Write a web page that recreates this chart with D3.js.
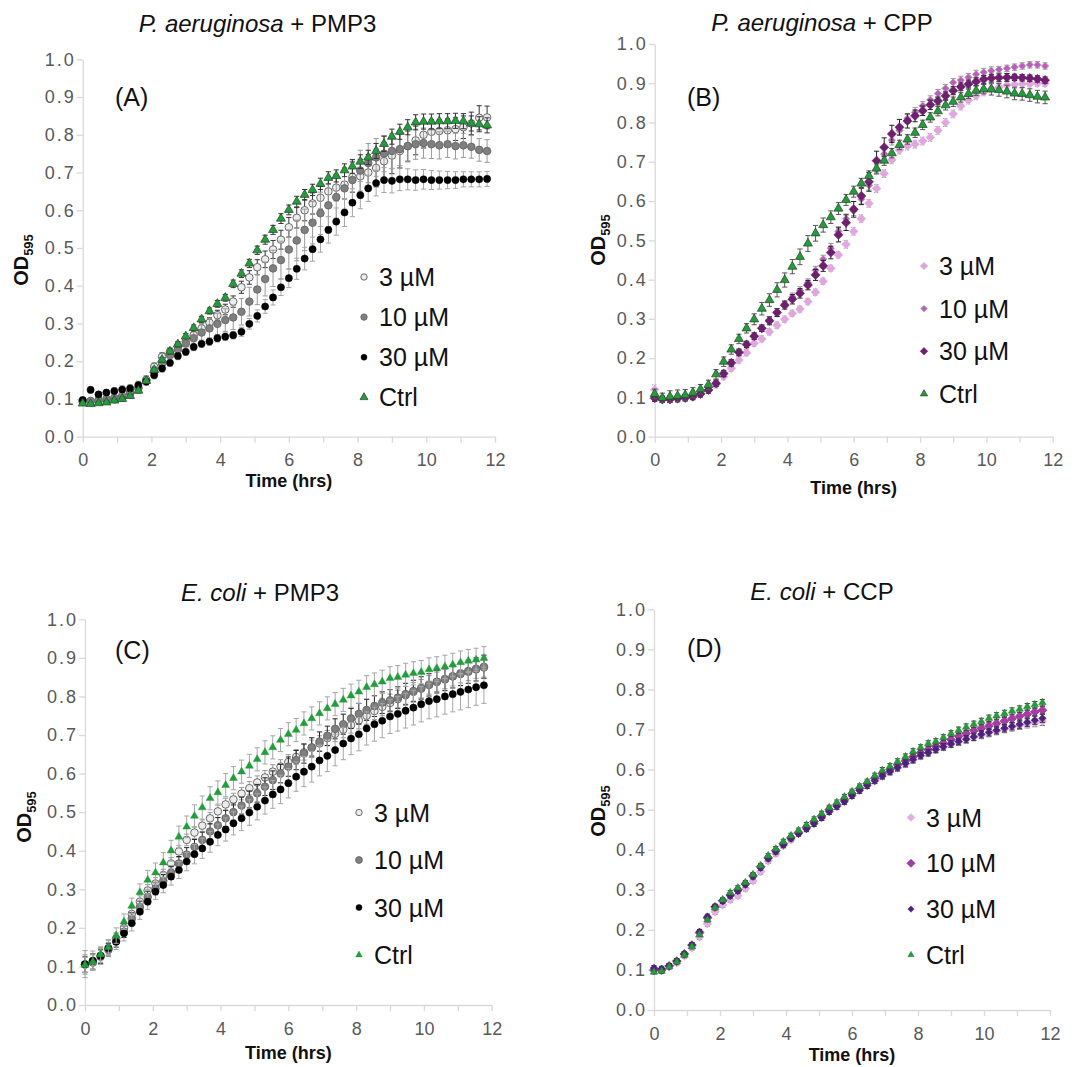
<!DOCTYPE html>
<html><head><meta charset="utf-8">
<script src="https://cdn.jsdelivr.net/npm/d3@7"></script>
<style>body{margin:0;background:#fff} svg{display:block}</style>
</head><body>
<svg id="chart" width="1078" height="1067"></svg>
<script>
// ---------------- DATA ----------------
const timeHrs = [0,0.23,0.46,0.69,0.92,1.15,1.38,1.62,1.85,2.08,2.31,2.54,2.77,3.0,3.23,3.46,3.69,3.92,4.15,4.38,4.62,4.85,5.08,5.31,5.54,5.77,6.0,6.23,6.46,6.69,6.92,7.15,7.38,7.62,7.85,8.08,8.31,8.54,8.77,9.0,9.23,9.46,9.69,9.92,10.15,10.38,10.62,10.85,11.08,11.31,11.54,11.77];
const xTickValues = [0,1,2,3,4,5,6,7,8,9,10,11,12];
const xTickLabels = [0,2,4,6,8,10,12];
const yTickValues = [0,0.1,0.2,0.3,0.4,0.5,0.6,0.7,0.8,0.9,1.0];
const seriesLabels = ["3 µM","10 µM","30 µM","Ctrl"];
const panelLetters = ["(A)","(B)","(C)","(D)"];
const titleOrganisms = ["P. aeruginosa","P. aeruginosa","E. coli","E. coli"];
const titleTreatments = [" + PMP3"," + CPP"," + PMP3"," + CCP"];
const xAxisTitle = "Time (hrs)";

// Panel A: P. aeruginosa + PMP3
const paePmp3_3uM = [0.095,0.093,0.095,0.097,0.099,0.104,0.115,0.128,0.150,0.185,0.212,0.225,0.239,0.252,0.269,0.287,0.302,0.322,0.337,0.358,0.396,0.422,0.449,0.470,0.496,0.522,0.555,0.580,0.600,0.618,0.633,0.650,0.660,0.668,0.688,0.690,0.700,0.712,0.730,0.745,0.757,0.770,0.785,0.800,0.808,0.810,0.812,0.815,0.820,0.830,0.845,0.846];
const paePmp3_10uM = [0.093,0.095,0.097,0.100,0.103,0.108,0.117,0.130,0.150,0.172,0.194,0.216,0.231,0.247,0.261,0.276,0.287,0.299,0.309,0.316,0.331,0.358,0.390,0.418,0.446,0.468,0.496,0.520,0.548,0.567,0.592,0.613,0.635,0.658,0.680,0.705,0.725,0.740,0.750,0.757,0.762,0.770,0.775,0.778,0.775,0.772,0.775,0.770,0.772,0.768,0.760,0.757];
const paePmp3_30uM = [0.097,0.124,0.112,0.117,0.121,0.125,0.128,0.137,0.146,0.163,0.181,0.196,0.214,0.225,0.238,0.246,0.252,0.261,0.265,0.269,0.278,0.299,0.320,0.345,0.369,0.396,0.420,0.445,0.472,0.497,0.523,0.548,0.570,0.594,0.620,0.640,0.658,0.672,0.680,0.678,0.682,0.682,0.680,0.682,0.680,0.680,0.680,0.680,0.682,0.682,0.682,0.683];
const paePmp3_ctrl = [0.088,0.087,0.089,0.091,0.096,0.100,0.108,0.122,0.148,0.177,0.204,0.226,0.245,0.266,0.288,0.311,0.333,0.352,0.368,0.405,0.432,0.459,0.494,0.522,0.548,0.578,0.601,0.623,0.641,0.654,0.670,0.686,0.691,0.706,0.716,0.729,0.740,0.757,0.776,0.795,0.808,0.820,0.833,0.835,0.835,0.836,0.836,0.837,0.836,0.830,0.828,0.825];
const paePmp3_3uM_err = [0.004,0.004,0.004,0.005,0.005,0.005,0.006,0.008,0.010,0.010,0.010,0.010,0.010,0.010,0.012,0.012,0.013,0.013,0.014,0.015,0.016,0.018,0.020,0.022,0.024,0.025,0.026,0.027,0.028,0.028,0.030,0.032,0.035,0.038,0.040,0.045,0.048,0.050,0.050,0.048,0.045,0.040,0.038,0.035,0.032,0.030,0.030,0.030,0.030,0.030,0.032,0.030];
const paePmp3_10uM_err = [0.005,0.005,0.006,0.006,0.007,0.008,0.009,0.010,0.012,0.014,0.015,0.016,0.018,0.020,0.022,0.024,0.026,0.028,0.030,0.032,0.035,0.038,0.040,0.045,0.048,0.050,0.052,0.054,0.055,0.056,0.056,0.056,0.056,0.055,0.055,0.054,0.052,0.050,0.048,0.046,0.044,0.042,0.040,0.040,0.038,0.036,0.035,0.034,0.032,0.030,0.030,0.030];
const paePmp3_30uM_err = [0.008,0.008,0.008,0.008,0.009,0.010,0.010,0.010,0.010,0.010,0.010,0.010,0.010,0.010,0.010,0.010,0.010,0.010,0.010,0.010,0.012,0.014,0.016,0.018,0.020,0.022,0.025,0.028,0.030,0.032,0.034,0.035,0.036,0.037,0.037,0.036,0.035,0.034,0.033,0.032,0.030,0.028,0.027,0.026,0.025,0.024,0.023,0.022,0.020,0.020,0.020,0.020];
const paePmp3_ctrl_err = [0.004,0.004,0.004,0.004,0.004,0.005,0.005,0.006,0.006,0.006,0.006,0.007,0.007,0.007,0.008,0.008,0.008,0.009,0.009,0.010,0.010,0.011,0.011,0.012,0.012,0.013,0.013,0.014,0.014,0.015,0.015,0.016,0.016,0.017,0.018,0.018,0.019,0.020,0.020,0.020,0.020,0.020,0.020,0.020,0.020,0.020,0.020,0.020,0.020,0.020,0.020,0.020];

// Panel B: P. aeruginosa + CPP
const paeCpp_3uM = [0.120,0.095,0.095,0.098,0.099,0.104,0.109,0.119,0.132,0.153,0.174,0.195,0.214,0.238,0.249,0.267,0.284,0.299,0.314,0.325,0.344,0.368,0.396,0.429,0.463,0.490,0.523,0.555,0.594,0.632,0.670,0.705,0.730,0.740,0.745,0.753,0.762,0.780,0.800,0.822,0.842,0.857,0.868,0.878,0.886,0.890,0.895,0.897,0.898,0.899,0.900,0.900];
const paeCpp_10uM = [0.100,0.096,0.096,0.098,0.100,0.103,0.110,0.120,0.137,0.160,0.187,0.213,0.234,0.257,0.277,0.297,0.318,0.338,0.356,0.372,0.392,0.424,0.452,0.480,0.523,0.555,0.575,0.605,0.640,0.680,0.720,0.755,0.780,0.810,0.826,0.843,0.858,0.874,0.887,0.902,0.908,0.915,0.923,0.928,0.932,0.935,0.938,0.941,0.944,0.947,0.947,0.944];
const paeCpp_30uM = [0.098,0.095,0.095,0.097,0.099,0.102,0.109,0.119,0.136,0.161,0.188,0.215,0.235,0.256,0.276,0.295,0.316,0.335,0.350,0.365,0.386,0.412,0.435,0.469,0.514,0.545,0.579,0.613,0.649,0.703,0.737,0.771,0.788,0.804,0.817,0.830,0.845,0.855,0.868,0.881,0.891,0.898,0.904,0.910,0.913,0.914,0.915,0.915,0.914,0.913,0.911,0.908];
const paeCpp_ctrl = [0.109,0.099,0.102,0.104,0.106,0.112,0.121,0.132,0.159,0.191,0.222,0.249,0.276,0.299,0.326,0.348,0.374,0.399,0.433,0.458,0.492,0.518,0.539,0.559,0.581,0.603,0.624,0.645,0.664,0.683,0.703,0.722,0.743,0.757,0.774,0.794,0.813,0.829,0.844,0.853,0.864,0.873,0.881,0.885,0.885,0.883,0.879,0.874,0.873,0.870,0.866,0.864];
const paeCpp_3uM_err = [0.012,0.008,0.008,0.008,0.008,0.008,0.008,0.008,0.008,0.008,0.008,0.008,0.008,0.008,0.008,0.008,0.008,0.008,0.008,0.008,0.008,0.008,0.008,0.008,0.008,0.010,0.010,0.010,0.010,0.010,0.010,0.010,0.010,0.010,0.010,0.010,0.010,0.010,0.010,0.010,0.010,0.010,0.010,0.010,0.010,0.010,0.010,0.010,0.010,0.008,0.008,0.008];
const paeCpp_10uM_err = [0.008,0.008,0.008,0.008,0.008,0.008,0.008,0.008,0.008,0.008,0.008,0.008,0.008,0.008,0.008,0.008,0.008,0.008,0.010,0.010,0.010,0.010,0.010,0.012,0.012,0.012,0.012,0.012,0.012,0.012,0.012,0.012,0.012,0.012,0.012,0.010,0.010,0.010,0.010,0.010,0.010,0.010,0.010,0.010,0.010,0.008,0.008,0.008,0.008,0.008,0.008,0.008];
const paeCpp_30uM_err = [0.008,0.008,0.008,0.008,0.008,0.008,0.008,0.008,0.008,0.008,0.008,0.008,0.008,0.008,0.008,0.010,0.010,0.010,0.012,0.012,0.012,0.014,0.014,0.016,0.018,0.020,0.020,0.022,0.024,0.024,0.024,0.022,0.020,0.018,0.015,0.012,0.012,0.010,0.010,0.010,0.010,0.010,0.010,0.010,0.010,0.010,0.010,0.008,0.008,0.008,0.008,0.008];
const paeCpp_ctrl_err = [0.012,0.012,0.015,0.015,0.014,0.013,0.012,0.012,0.012,0.012,0.012,0.012,0.012,0.014,0.016,0.016,0.018,0.018,0.018,0.020,0.020,0.020,0.018,0.016,0.015,0.014,0.014,0.013,0.013,0.012,0.012,0.012,0.012,0.012,0.012,0.012,0.012,0.012,0.012,0.012,0.012,0.012,0.012,0.012,0.015,0.016,0.016,0.016,0.016,0.016,0.016,0.016];

// Panel C: E. coli + PMP3
const ecoPmp3_3uM = [0.105,0.110,0.128,0.147,0.172,0.200,0.236,0.268,0.297,0.315,0.337,0.367,0.398,0.428,0.447,0.465,0.484,0.502,0.520,0.533,0.548,0.562,0.577,0.590,0.605,0.618,0.630,0.643,0.655,0.667,0.678,0.692,0.703,0.714,0.726,0.738,0.750,0.762,0.773,0.783,0.793,0.803,0.812,0.820,0.830,0.838,0.845,0.852,0.860,0.866,0.872,0.875];
const ecoPmp3_10uM = [0.105,0.113,0.125,0.143,0.165,0.190,0.224,0.254,0.280,0.302,0.322,0.343,0.367,0.390,0.410,0.428,0.450,0.466,0.484,0.500,0.517,0.533,0.549,0.566,0.583,0.600,0.618,0.635,0.652,0.668,0.683,0.698,0.716,0.728,0.743,0.755,0.765,0.775,0.784,0.790,0.797,0.806,0.814,0.822,0.830,0.838,0.844,0.852,0.858,0.864,0.870,0.877];
const ecoPmp3_30uM = [0.106,0.115,0.127,0.147,0.164,0.186,0.212,0.242,0.268,0.294,0.311,0.333,0.350,0.372,0.391,0.406,0.423,0.441,0.455,0.471,0.484,0.499,0.514,0.530,0.546,0.559,0.575,0.592,0.605,0.618,0.634,0.646,0.661,0.678,0.691,0.702,0.717,0.728,0.737,0.748,0.755,0.763,0.771,0.780,0.788,0.793,0.800,0.806,0.812,0.818,0.824,0.829];
const ecoPmp3_ctrl = [0.104,0.112,0.131,0.150,0.180,0.216,0.257,0.292,0.324,0.343,0.369,0.400,0.436,0.462,0.490,0.512,0.536,0.551,0.570,0.588,0.605,0.620,0.637,0.655,0.668,0.687,0.702,0.713,0.730,0.743,0.756,0.769,0.780,0.791,0.802,0.812,0.824,0.831,0.838,0.847,0.850,0.856,0.860,0.863,0.870,0.873,0.877,0.882,0.888,0.892,0.895,0.899];
const ecoPmp3_3uM_err = [0.025,0.020,0.018,0.015,0.015,0.015,0.015,0.015,0.015,0.015,0.015,0.015,0.015,0.015,0.015,0.015,0.015,0.016,0.016,0.016,0.016,0.017,0.017,0.018,0.018,0.018,0.019,0.019,0.020,0.020,0.020,0.020,0.020,0.021,0.021,0.022,0.022,0.022,0.022,0.023,0.023,0.023,0.024,0.024,0.024,0.025,0.025,0.025,0.025,0.025,0.025,0.025];
const ecoPmp3_10uM_err = [0.020,0.020,0.018,0.016,0.015,0.015,0.015,0.015,0.015,0.016,0.016,0.017,0.018,0.018,0.019,0.020,0.020,0.020,0.021,0.021,0.022,0.022,0.023,0.023,0.024,0.024,0.025,0.025,0.025,0.025,0.025,0.025,0.026,0.026,0.026,0.027,0.027,0.027,0.028,0.028,0.028,0.028,0.028,0.029,0.029,0.029,0.029,0.030,0.030,0.030,0.030,0.030];
const ecoPmp3_30uM_err = [0.035,0.025,0.022,0.020,0.020,0.020,0.020,0.020,0.020,0.020,0.020,0.022,0.022,0.024,0.025,0.026,0.027,0.028,0.030,0.030,0.032,0.033,0.034,0.035,0.036,0.037,0.038,0.038,0.039,0.040,0.040,0.041,0.041,0.042,0.042,0.043,0.043,0.044,0.044,0.044,0.045,0.045,0.045,0.046,0.046,0.046,0.046,0.046,0.047,0.047,0.047,0.047];
const ecoPmp3_ctrl_err = [0.020,0.020,0.020,0.020,0.020,0.020,0.020,0.022,0.025,0.025,0.026,0.027,0.028,0.028,0.029,0.030,0.030,0.030,0.030,0.030,0.030,0.030,0.030,0.030,0.030,0.030,0.030,0.030,0.030,0.030,0.030,0.030,0.030,0.030,0.030,0.030,0.030,0.030,0.030,0.030,0.030,0.030,0.030,0.030,0.030,0.030,0.030,0.030,0.030,0.030,0.030,0.030];

// Panel D: E. coli + CCP
const ecoCcp_3uM = [0.098,0.098,0.108,0.118,0.135,0.155,0.182,0.215,0.245,0.262,0.275,0.285,0.303,0.322,0.345,0.372,0.390,0.410,0.425,0.440,0.453,0.466,0.480,0.495,0.508,0.522,0.535,0.548,0.560,0.572,0.583,0.594,0.604,0.614,0.624,0.634,0.642,0.650,0.656,0.663,0.669,0.675,0.681,0.686,0.691,0.696,0.701,0.706,0.710,0.714,0.717,0.720];
const ecoCcp_10uM = [0.100,0.100,0.110,0.122,0.140,0.162,0.193,0.230,0.257,0.273,0.287,0.300,0.315,0.335,0.358,0.380,0.398,0.415,0.430,0.443,0.456,0.470,0.484,0.500,0.512,0.525,0.540,0.553,0.565,0.578,0.590,0.600,0.612,0.622,0.632,0.642,0.650,0.658,0.666,0.675,0.683,0.690,0.697,0.703,0.709,0.715,0.721,0.727,0.733,0.738,0.744,0.748];
const ecoCcp_30uM = [0.105,0.103,0.110,0.122,0.140,0.162,0.195,0.233,0.258,0.272,0.285,0.297,0.313,0.333,0.355,0.378,0.395,0.412,0.428,0.440,0.452,0.465,0.480,0.495,0.508,0.520,0.535,0.548,0.560,0.572,0.584,0.595,0.605,0.615,0.625,0.635,0.642,0.650,0.657,0.664,0.670,0.676,0.682,0.688,0.693,0.698,0.703,0.708,0.713,0.718,0.723,0.728];
const ecoCcp_ctrl = [0.095,0.097,0.108,0.120,0.137,0.158,0.188,0.225,0.255,0.275,0.293,0.305,0.318,0.338,0.360,0.385,0.402,0.420,0.435,0.448,0.462,0.476,0.490,0.505,0.518,0.532,0.545,0.558,0.570,0.585,0.598,0.608,0.620,0.632,0.645,0.655,0.665,0.670,0.680,0.690,0.698,0.706,0.713,0.720,0.728,0.734,0.740,0.746,0.751,0.757,0.762,0.767];
const ecoCcp_3uM_err = [0.006,0.006,0.006,0.006,0.006,0.006,0.006,0.006,0.006,0.006,0.006,0.006,0.006,0.006,0.006,0.006,0.006,0.006,0.006,0.006,0.007,0.007,0.007,0.007,0.007,0.007,0.007,0.007,0.007,0.007,0.008,0.008,0.008,0.008,0.008,0.008,0.008,0.008,0.008,0.008,0.009,0.009,0.009,0.009,0.009,0.009,0.009,0.010,0.010,0.010,0.010,0.010];
const ecoCcp_10uM_err = [0.006,0.006,0.006,0.006,0.006,0.006,0.006,0.006,0.006,0.006,0.006,0.006,0.006,0.006,0.006,0.006,0.006,0.006,0.006,0.006,0.007,0.007,0.007,0.007,0.007,0.007,0.007,0.007,0.007,0.007,0.007,0.007,0.007,0.007,0.008,0.008,0.008,0.008,0.008,0.008,0.008,0.008,0.008,0.008,0.009,0.009,0.009,0.009,0.009,0.009,0.009,0.009];
const ecoCcp_30uM_err = [0.006,0.006,0.006,0.006,0.006,0.006,0.006,0.006,0.006,0.006,0.006,0.006,0.006,0.006,0.006,0.006,0.006,0.006,0.006,0.006,0.007,0.007,0.007,0.007,0.007,0.007,0.007,0.007,0.007,0.007,0.007,0.007,0.008,0.008,0.008,0.008,0.008,0.008,0.008,0.008,0.008,0.009,0.009,0.009,0.009,0.009,0.009,0.009,0.010,0.010,0.010,0.010];
const ecoCcp_ctrl_err = [0.005,0.005,0.005,0.005,0.005,0.005,0.005,0.005,0.005,0.005,0.005,0.005,0.005,0.005,0.005,0.005,0.006,0.006,0.006,0.006,0.006,0.006,0.006,0.006,0.006,0.006,0.006,0.006,0.006,0.006,0.007,0.007,0.007,0.007,0.007,0.007,0.007,0.007,0.007,0.007,0.008,0.008,0.008,0.008,0.008,0.008,0.008,0.008,0.008,0.008,0.008,0.008];

// ---------------- DRAWING ----------------
const SANS = "'Liberation Sans', Arial, Helvetica, sans-serif";
const svg = d3.select("#chart");

function markerPath(shape, s) {
  if (shape === "circle") return d3.symbol(d3.symbolCircle, Math.PI * s * s)();
  if (shape === "diamond") return `M0,${-s}L${s},0L0,${s}L${-s},0Z`;
  const side = s * 2, h = side * Math.sqrt(3) / 2;
  return `M0,${-2*h/3}L${side/2},${h/3}L${-side/2},${h/3}Z`;
}

const GREEN = "#1f9e3a";

const panels = [
  { x0: 82.7, x1: 495, y0: 436.7, y1: 59.3,
    titleX: 257.5, titleY: 32, letterX: 115, letterY: 106, odX: 21, odY: 260, timeY: 487,
    legX: 364, legY: 277, legDy: 40.1,
    series: [
      { v: paePmp3_3uM, e: paePmp3_3uM_err, shape: "circle", r: 3.8, lr: 3.2, fill: "#ececec", stroke: "#5a5a5a", sw: 0.9, ec: "#333" },
      { v: paePmp3_10uM, e: paePmp3_10uM_err, shape: "circle", r: 3.8, lr: 3.2, fill: "#7f7f7f", stroke: "#666", sw: 0.9, ec: "#9a9a9a" },
      { v: paePmp3_30uM, e: paePmp3_30uM_err, shape: "circle", r: 3.6, lr: 3.0, fill: "#000", stroke: "#000", sw: 0.5, ec: "#a6a6a6" },
      { v: paePmp3_ctrl, e: paePmp3_ctrl_err, shape: "triangle", r: 4.5, lr: 4.0, fill: GREEN, stroke: "#2c3f2c", sw: 0.7, ec: "#333" } ] },
  { x0: 654.7, x1: 1052.7, y0: 436.7, y1: 44,
    titleX: 822, titleY: 31, letterX: 687, letterY: 106, odX: 598, odY: 240, timeY: 494,
    legX: 924, legY: 266, legDy: 42.6,
    series: [
      { v: paeCpp_3uM, e: paeCpp_3uM_err, shape: "diamond", r: 4.4, lr: 3.8, fill: "#e0a6e0", stroke: "#e0a6e0", sw: 0.5, ec: "#a8a8a8", dash: "1.5,1.5" },
      { v: paeCpp_10uM, e: paeCpp_10uM_err, shape: "diamond", r: 3.6, lr: 3.2, fill: "#c455c4", stroke: "#a0a0a0", sw: 0.9, ec: "#999" },
      { v: paeCpp_30uM, e: paeCpp_30uM_err, shape: "diamond", r: 4.6, lr: 3.8, fill: "#6e1f6e", stroke: "#6e1f6e", sw: 0.5, ec: "#222" },
      { v: paeCpp_ctrl, e: paeCpp_ctrl_err, shape: "triangle", r: 4.5, lr: 3.6, fill: GREEN, stroke: "#2c3f2c", sw: 0.7, ec: "#555" } ] },
  { x0: 85, x1: 491.7, y0: 1005, y1: 619.3,
    titleX: 260, titleY: 601, letterX: 115, letterY: 659, odX: 24, odY: 817, timeY: 1059,
    legX: 359, legY: 812.5, legDy: 47.5,
    series: [
      { v: ecoPmp3_3uM, e: ecoPmp3_3uM_err, shape: "circle", r: 3.8, lr: 3.2, fill: "#ececec", stroke: "#5a5a5a", sw: 0.9, ec: "#9a9a9a" },
      { v: ecoPmp3_10uM, e: ecoPmp3_10uM_err, shape: "circle", r: 3.8, lr: 3.4, fill: "#7f7f7f", stroke: "#666", sw: 0.9, ec: "#222" },
      { v: ecoPmp3_30uM, e: ecoPmp3_30uM_err, shape: "circle", r: 3.6, lr: 3.0, fill: "#000", stroke: "#000", sw: 0.5, ec: "#a6a6a6" },
      { v: ecoPmp3_ctrl, e: ecoPmp3_ctrl_err, shape: "triangle", r: 4.0, lr: 3.4, fill: GREEN, stroke: GREEN, sw: 0.4, ec: "#a6a6a6" } ] },
  { x0: 654, x1: 1050, y0: 1010, y1: 609.3,
    titleX: 822, titleY: 600, letterX: 687, letterY: 657, odX: 598, odY: 811, timeY: 1061,
    legX: 911, legY: 817.5, legDy: 45.8,
    series: [
      { v: ecoCcp_3uM, e: ecoCcp_3uM_err, shape: "diamond", r: 4.2, lr: 3.8, fill: "#e3aee3", stroke: "#d9a0d9", sw: 0.6, ec: "#777" },
      { v: ecoCcp_10uM, e: ecoCcp_10uM_err, shape: "diamond", r: 4.4, lr: 4.0, fill: "#a83aa8", stroke: "#7d2a7d", sw: 0.7, ec: "#444" },
      { v: ecoCcp_30uM, e: ecoCcp_30uM_err, shape: "diamond", r: 3.8, lr: 3.2, fill: "#4c2180", stroke: "#4c2180", sw: 0.5, ec: "#333" },
      { v: ecoCcp_ctrl, e: ecoCcp_ctrl_err, shape: "triangle", r: 3.8, lr: 3.2, fill: GREEN, stroke: "#2c6f2c", sw: 0.4, ec: "#444" } ] }
];

panels.forEach((p, pi) => {
  const g = svg.append("g");
  const x = d3.scaleLinear().domain([0, 12]).range([p.x0, p.x1]);
  const y = d3.scaleLinear().domain([0, 1]).range([p.y0, p.y1]);

  const ya = g.append("g").attr("transform", `translate(${p.x0},0)`)
    .call(d3.axisLeft(y).tickValues(yTickValues).tickSize(6).tickSizeOuter(0).tickPadding(1).tickFormat(d3.format(".1f")));
  const xa = g.append("g").attr("transform", `translate(0,${p.y0})`)
    .call(d3.axisBottom(x).tickValues(xTickValues).tickSize(6).tickSizeOuter(0).tickPadding(11)
      .tickFormat(d => xTickLabels.includes(d) ? d : ""));
  [ya, xa].forEach(a => {
    a.select(".domain").attr("stroke", "#d9d9d9").attr("stroke-width", 1.3);
    a.selectAll(".tick line").attr("stroke", "#d9d9d9").attr("stroke-width", 1.3);
    a.selectAll(".tick text").attr("fill", "#595959").style("font-family", SANS).style("font-size", "18px");
  });
  ya.selectAll(".tick text").attr("letter-spacing", "2px");

  p.series.forEach(s => {
    const sg = g.append("g");
    const pts = timeHrs.map((t, i) => ({ t, v: s.v[i], e: s.e[i] }));
    const eb = sg.append("g").attr("stroke", s.ec).attr("stroke-width", 1).attr("fill", "none");
    if (s.dash) eb.attr("stroke-dasharray", s.dash);
    pts.forEach(d => {
      const cx = x(d.t), yt = y(d.v + d.e), yb = y(d.v - d.e);
      eb.append("line").attr("x1", cx).attr("x2", cx).attr("y1", yt).attr("y2", yb);
      eb.append("line").attr("x1", cx - 2.6).attr("x2", cx + 2.6).attr("y1", yt).attr("y2", yt);
      eb.append("line").attr("x1", cx - 2.6).attr("x2", cx + 2.6).attr("y1", yb).attr("y2", yb);
    });
    sg.append("g").selectAll("path").data(pts).join("path")
      .attr("d", markerPath(s.shape, s.r))
      .attr("transform", d => `translate(${x(d.t)},${y(d.v)})`)
      .attr("fill", s.fill).attr("stroke", s.stroke).attr("stroke-width", s.sw);
  });

  p.series.forEach((s, si) => {
    const ly = p.legY + si * p.legDy;
    g.append("path").attr("d", markerPath(s.shape, s.lr))
      .attr("transform", `translate(${p.legX},${ly})`)
      .attr("fill", s.fill).attr("stroke", s.stroke).attr("stroke-width", s.sw);
    g.append("text").attr("x", p.legX + 15).attr("y", ly + 9)
      .style("font-family", SANS).style("font-size", "25px").attr("fill", "#111")
      .text(seriesLabels[si]);
  });

  g.append("text").attr("x", p.letterX).attr("y", p.letterY)
    .style("font-family", SANS).style("font-size", "25px").attr("fill", "#111")
    .text(panelLetters[pi]);

  const tt = g.append("text").attr("x", p.titleX).attr("y", p.titleY).attr("text-anchor", "middle")
    .style("font-family", SANS).style("font-size", "24px").attr("fill", "#111");
  tt.append("tspan").style("font-style", "italic").text(titleOrganisms[pi]);
  tt.append("tspan").text(titleTreatments[pi]);

  g.append("text").attr("x", (p.x0 + p.x1) / 2).attr("y", p.timeY).attr("text-anchor", "middle")
    .style("font-family", SANS).style("font-size", "18px").style("font-weight", "bold").attr("fill", "#111")
    .text(xAxisTitle);

  const od = g.append("text").attr("transform", `translate(${p.odX + 7},${p.odY}) rotate(-90)`)
    .attr("text-anchor", "middle")
    .style("font-family", SANS).style("font-weight", "bold").attr("fill", "#111");
  od.append("tspan").style("font-size", "20px").text("OD");
  od.append("tspan").style("font-size", "13px").attr("dy", 5).text("595");
});
</script>
</body></html>
